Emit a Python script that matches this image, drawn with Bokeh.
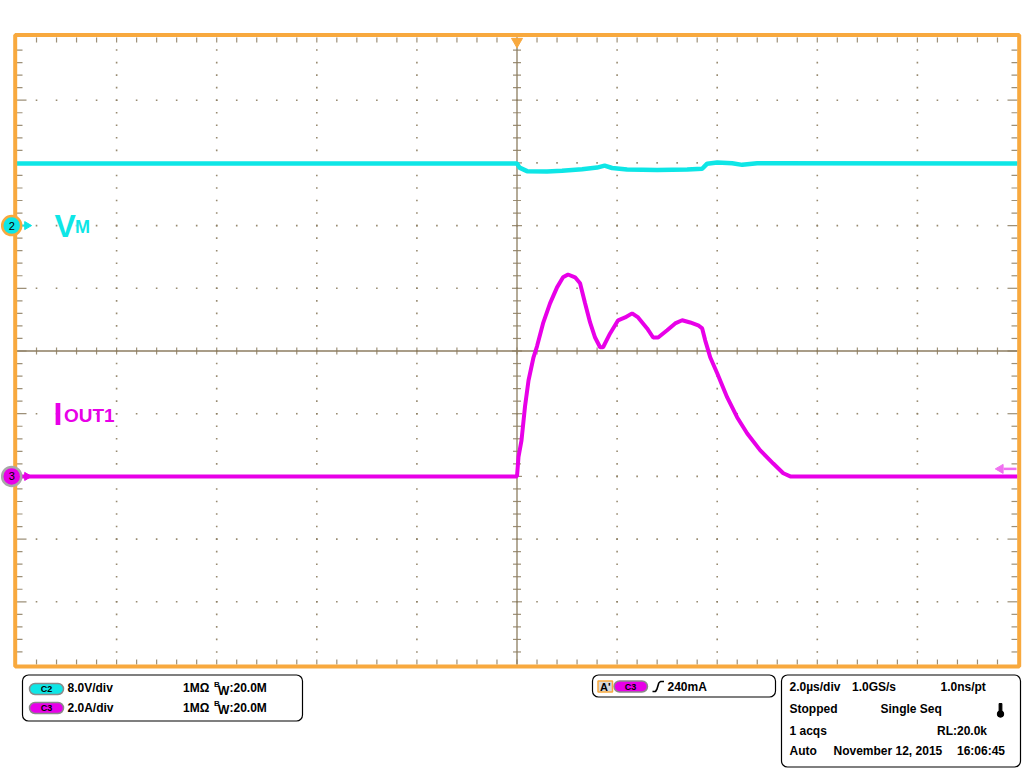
import numpy as np
from bokeh.plotting import figure
from bokeh.layouts import column
from bokeh.models import Range1d
from bokeh.embed import file_html
from bokeh.resources import INLINE
from bokeh.core.properties import value

# ---------------- data ----------------
time_per_div_us = 2.0
c2_volts_per_div = 8.0
c3_amps_per_div = 2.0
c2_offset_div = 2.0
c3_offset_div = -2.0
trigger_level_a = 0.24

# C3 : IOUT1 (A) versus time (us)
iout_t = [-10.0, 0.0, 0.03, 0.09, 0.16, 0.23, 0.33, 0.40, 0.52, 0.66,
          0.80, 0.92, 1.02, 1.16, 1.26, 1.36, 1.46, 1.56, 1.66, 1.72,
          1.86, 2.02, 2.16, 2.30, 2.42, 2.60, 2.72, 2.82, 3.00, 3.16,
          3.30, 3.46, 3.62, 3.70, 3.76, 3.82, 3.86, 4.00, 4.20, 4.40,
          4.60, 4.86, 5.12, 5.32, 5.46, 10.0]
iout_a = [0.0, 0.0, 0.62, 1.15, 2.23, 3.06, 3.80, 4.15, 4.88, 5.52,
          6.03, 6.35, 6.44, 6.35, 6.16, 5.52, 4.91, 4.43, 4.12, 4.12,
          4.56, 4.98, 5.07, 5.20, 5.07, 4.72, 4.43, 4.43, 4.66, 4.88,
          4.98, 4.91, 4.82, 4.72, 4.34, 4.02, 3.80, 3.29, 2.52, 1.88,
          1.37, 0.83, 0.41, 0.10, 0.0, 0.0]

# C2 : VM (V) versus time (us)
vm_t = [-10.0, 0.0, 0.05, 0.2, 0.6, 0.9, 1.3, 1.6, 1.75, 1.9,
        2.2, 2.8, 3.4, 3.7, 3.8, 4.0, 4.3, 4.5, 4.8, 10.0]
vm_v = [7.92, 7.92, 7.4, 6.95, 6.9, 7.0, 7.2, 7.4, 7.65, 7.35,
        7.15, 7.1, 7.15, 7.25, 7.9, 8.05, 7.95, 7.75, 7.95, 7.92]

# ---------------- style ----------------
ORANGE = "#F8A93E"
CYAN = "#0EE6E6"
MAG = "#E800E8"
GRIDC = "#8C7D60"
FONT = value("Liberation Sans")

PXX = 50.05   # screen px per us
PXY = 62.7    # screen px per vertical division


def tx(px):
    return -10 + (px - 16) / PXX


def ty(py):
    return (350.5 - py) / PXY


p = figure(width=1024, height=672,
           x_range=Range1d(tx(0), tx(1024)), y_range=Range1d(ty(672), ty(0)),
           output_backend="svg", toolbar_location=None,
           x_axis_location=None, y_axis_location=None, min_border=0,
           outline_line_color=None, background_fill_color="white",
           border_fill_color="white")
p.grid.visible = False

# dotted graticule
xmaj = np.arange(-8, 9, 2.0)
xmaj = xmaj[xmaj != 0]
ymaj = np.arange(-4, 5, 1.0)
ymaj = ymaj[ymaj != 0]
ymin = -5 + 0.2 * np.arange(1, 50)
xmin = -10 + 0.4 * np.arange(1, 50)
dx = np.concatenate([np.repeat(xmaj, len(ymin)), np.tile(xmin, len(ymaj))])
dy = np.concatenate([np.tile(ymin, len(xmaj)), np.repeat(ymaj, len(xmin))])
p.scatter(dx, dy, marker="square", size=1.6, fill_color=GRIDC,
          line_color=None, fill_alpha=0.9)

# center cross
p.segment(x0=[0, -10], y0=[-5, 0], x1=[0, 10], y1=[5, 0],
          line_color=GRIDC, line_width=1.3)

# ticks
x0, y0, x1, y1 = [], [], [], []
for k in range(1, 50):
    xv = -10 + 0.4 * k
    x0 += [xv, xv, xv]; x1 += [xv, xv, xv]
    y0 += [5, -5, -3.5 / PXY]; y1 += [5 - 5 / PXY, -5 + 5 / PXY, 3.5 / PXY]
for k in range(1, 50):
    yv = -5 + 0.2 * k
    L = 10 if k % 5 == 0 else 6
    c = 5 if k % 5 == 0 else 4
    x0 += [-10, 10, -c / PXX]; x1 += [-10 + L / PXX, 10 - L / PXX, c / PXX]
    y0 += [yv, yv, yv]; y1 += [yv, yv, yv]
p.segment(x0=x0, y0=y0, x1=x1, y1=y1, line_color=GRIDC, line_width=1.2,
          line_alpha=0.85)

# traces
vm_div = c2_offset_div + np.array(vm_v) / c2_volts_per_div
io_div = c3_offset_div + np.array(iout_a) / c3_amps_per_div
p.line(vm_t, vm_div, line_color=CYAN, line_width=4.5)
p.line(iout_t, io_div, line_color=MAG, line_width=4)

# orange screen border
p.quad(left=[tx(14.7)], right=[tx(1018.7)], top=[ty(34.5)], bottom=[ty(666)],
       fill_color=None, line_color=ORANGE, line_width=4)

# trigger position marker
p.scatter([0], [ty(41)], marker="inverted_triangle", size=11,
          fill_color=ORANGE, line_color=ORANGE)

# trigger level marker (right)
trig_div = c3_offset_div + trigger_level_a / c3_amps_per_div
p.segment(x0=[tx(1003)], y0=[trig_div], x1=[tx(1016)], y1=[trig_div],
          line_color="#F070F0", line_width=2.5)
p.scatter([tx(1000)], [trig_div], marker="triangle", angle=np.pi / 2,
          size=9, fill_color="#F070F0", line_color="#F070F0")

# channel offset markers
for yv, fc, lc, lab, arr in [(c2_offset_div, CYAN, ORANGE, "2", CYAN),
                             (c3_offset_div, MAG, "#A8A8A8", "3", MAG)]:
    p.segment(x0=[tx(20)], y0=[yv], x1=[tx(25)], y1=[yv],
              line_color=arr, line_width=2)
    p.scatter([tx(26.5)], [yv], marker="triangle", angle=-np.pi / 2, size=8,
              fill_color=arr, line_color=arr)
    p.scatter([tx(11.2)], [yv], marker="circle", size=19, fill_color=fc,
              line_color=lc, line_width=2.5)
    p.text([tx(11.2)], [yv], text=[lab], text_font=FONT,
           text_font_size="11px", text_align="center",
           text_baseline="middle", text_color="black")

# trace labels
p.text([tx(54)], [ty(225)], text=["V"], text_font=FONT,
       text_font_style="bold", text_font_size="32px",
       text_baseline="alphabetic", text_color=CYAN)
p.text([tx(74.5)], [ty(226.5)], text=["M"], text_font=FONT,
       text_font_style="bold", text_font_size="18px",
       text_baseline="alphabetic", text_color=CYAN)
p.text([tx(53)], [ty(413)], text=["I"], text_font=FONT,
       text_font_style="bold", text_font_size="32px",
       text_baseline="alphabetic", text_color=MAG)
p.text([tx(63.5)], [ty(415)], text=["OUT1"], text_font=FONT,
       text_font_style="bold", text_font_size="19px",
       text_baseline="alphabetic", text_color=MAG)

# ---------------- info panel ----------------
q = figure(width=1024, height=96, x_range=Range1d(0, 1024),
           y_range=Range1d(768, 672), output_backend="svg",
           toolbar_location=None, x_axis_location=None,
           y_axis_location=None, min_border=0, outline_line_color=None,
           background_fill_color="white", border_fill_color="white")
q.grid.visible = False

# frames
q.quad(left=[22, 592, 781], right=[302, 775, 1020], top=[674.5, 674.5, 674.5],
       bottom=[720.5, 696.5, 766.5], fill_color=None, line_color="black",
       line_width=1.2, border_radius=6)

# channel pills
q.quad(left=[29, 29, 613.5], right=[63, 63, 647], top=[683, 702, 680.5],
       bottom=[694, 713, 691.5], fill_color=[CYAN, MAG, MAG],
       line_color="#8A8A8A", line_width=1.5, border_radius=6)
q.text([46, 46, 630], [688.5, 707.5, 686], text=["C2", "C3", "C3"],
       text_font=FONT, text_font_style="bold", text_font_size="9px",
       text_align="center", text_baseline="middle", text_color="black")

# A' box
q.quad(left=[597.5], right=[612], top=[680.5], bottom=[691.5],
       fill_color="#D8D8D8", line_color=ORANGE, line_width=1.5)
q.text([604.8], [686.3], text=["A'"], text_font=FONT, text_font_style="bold",
       text_font_size="11px", text_align="center", text_baseline="middle",
       text_color="black")

# rising edge symbol
q.line([652, 655, 656.5, 658.3, 660, 663.5],
       [691, 691, 688.5, 682.5, 681, 681], line_color="black", line_width=1.6)

txt_x = [67, 182.5, 229, 67, 182.5, 229, 667,
         789, 851.5, 940, 789, 880, 789, 936.5, 789, 833, 956.5]
txt_y = [687.5, 687.5, 687.5, 707.2, 707.2, 707.2, 686,
         686.5, 686.5, 686.5, 708, 708, 730, 730, 750.5, 750.5, 750.5]
txt_s = ["8.0V/div", "1MΩ", ":20.0M", "2.0A/div", "1MΩ", ":20.0M", "240mA",
         "2.0µs/div", "1.0GS/s", "1.0ns/pt", "Stopped", "Single Seq",
         "1 acqs", "RL:20.0k", "Auto", "November 12, 2015", "16:06:45"]
q.text(txt_x, txt_y, text=txt_s, text_font=FONT, text_font_style="bold",
       text_font_size="12px", text_align="left", text_baseline="middle",
       text_color="black")
# B_W notation
q.text([213.5, 213.5], [683.5, 703.2], text=["B", "B"], text_font=FONT,
       text_font_style="bold", text_font_size="8px", text_baseline="middle",
       text_color="black")
q.text([217.5, 217.5], [690, 709.7], text=["W", "W"], text_font=FONT,
       text_font_style="bold", text_font_size="12px", text_baseline="middle",
       text_color="black")

# thermometer icon
q.quad(left=[998.6], right=[1001.4], top=[703], bottom=[712.5],
       fill_color="black", line_color="black")
q.scatter([1000], [713.5], marker="circle", size=6.5, fill_color="black",
          line_color="black")

layout = column(p, q, spacing=0)
open("out.html", "w").write(file_html(layout, INLINE))
